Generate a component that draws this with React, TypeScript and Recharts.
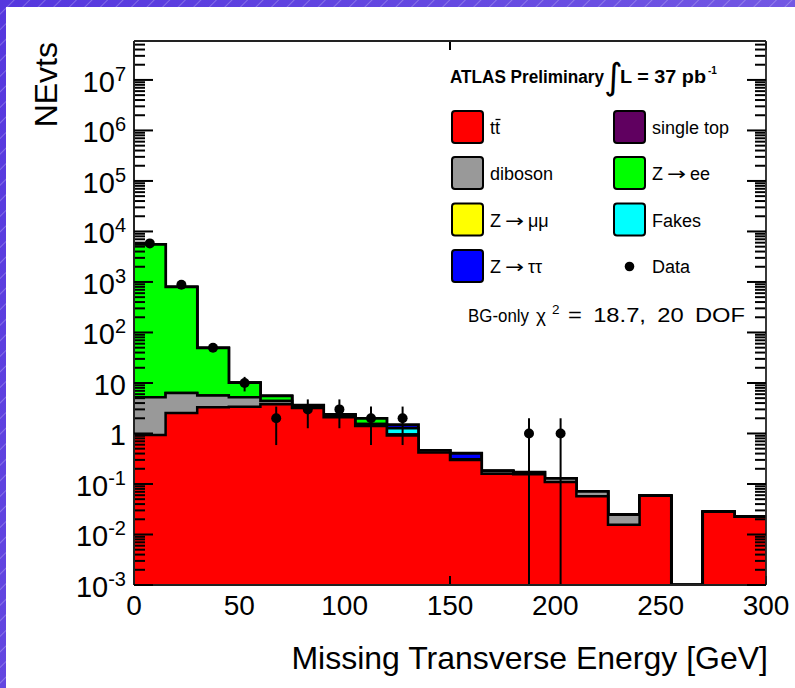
import React from 'react';
import { ComposedChart, Area, Scatter, XAxis, YAxis, ErrorBar } from 'recharts';

// ---- data ----
const binEdges = [0, 15, 30, 45, 60, 75, 90, 105, 120, 135, 150, 165, 180, 195, 210, 225, 240, 255, 270, 285, 300];

const ttbar = [0.93, 2.55, 3.3, 3.4, 3.8, 3.2, 2.1, 1.41, 0.91, 0.42, 0.3, 0.16, 0.155, 0.109, 0.057, 0.0156, 0.0584, 0, 0.0281, 0.0225];
const diboson = [4.27, 3.8, 2.35, 1.8, 0.6, 0.3, 0.2, 0.13, 0.03, 0.04, 0.005, 0.02, 0.015, 0.019, 0.014, 0.009, 0, 0, 0, 0];
const singleTop = [0, 0, 0, 0, 0, 0, 0, 0, 0, 0, 0, 0, 0, 0, 0, 0, 0, 0, 0, 0];
const zee = [5535, 790, 43.6, 4.9, 1.1, 0.13, 0.08, 0.44, 0, 0, 0, 0, 0, 0, 0, 0, 0, 0, 0, 0];
const zmumu = [0, 0, 0, 0, 0, 0, 0, 0, 0, 0, 0, 0, 0, 0, 0, 0, 0, 0, 0, 0];
const fakes = [0, 0, 0, 0, 0, 0, 0, 0, 0.33, 0, 0, 0, 0, 0, 0, 0, 0, 0, 0, 0];
const ztautau = [0, 0, 0, 0, 0, 0, 0, 0, 0.22, 0, 0.1, 0, 0, 0, 0, 0, 0, 0, 0, 0];

const dataCenters = [7.5, 22.5, 37.5, 52.5, 67.5, 82.5, 97.5, 112.5, 127.5, 187.5, 202.5];
const dataCounts = [5800, 880, 50, 10, 2, 3, 3, 2, 2, 1, 1];
const dataErrors = [76, 29.7, 7.1, 3.2, 1.41, 1.73, 1.73, 1.41, 1.41, 1, 1];

const xMajorTicks = [0, 50, 100, 150, 200, 250, 300];
const xMinorTicks = [10, 20, 30, 40, 60, 70, 80, 90, 110, 120, 130, 140, 160, 170, 180, 190, 210, 220, 230, 240, 260, 270, 280, 290];
const yMajorTicks = [1e-3, 1e-2, 1e-1, 1, 10, 1e2, 1e3, 1e4, 1e5, 1e6, 1e7];

const X_MIN = 0;
const X_MAX = 300;
const Y_MIN = 1e-3;
const Y_MAX = 5.9e7;

// ---- derived tables ----
const components = [ttbar, diboson, singleTop, zee, zmumu, fakes, ztautau];
const layerColors = ['#ff0000', '#999999', '#600060', '#00ff00', '#ffff00', '#00ffff', '#0000ff'];
const cumulative: number[][] = [];
components.forEach((arr, k) => {
  cumulative.push(arr.map((v, i) => v + (k > 0 ? cumulative[k - 1][i] : 0)));
});
const rows = binEdges.map((edge, i) => {
  const row: Record<string, number> = { x: edge };
  cumulative.forEach((arr, k) => {
    const v = arr[Math.min(i, arr.length - 1)];
    row['c' + k] = v > 0 ? v : Y_MIN;
  });
  return row;
});
const points = dataCenters.map((c, i) => ({
  x: c,
  y: dataCounts[i],
  err: [Math.min(dataErrors[i], dataCounts[i] - Y_MIN), dataErrors[i]],
}));
const yMinorTicks: number[] = [];
for (let e = -3; e <= 7; e++) {
  for (let m = 2; m <= 9; m++) {
    const v = m * Math.pow(10, e);
    if (v < Y_MAX) yMinorTicks.push(v);
  }
}

const FONT = '"Liberation Sans", Arial, Helvetica, sans-serif';
const AX = '#000';
const CHART_W = 795;
const CHART_H = 688;

const XTick = (props: any) => {
  const { x, y, payload } = props;
  return (
    <text x={x} y={y + 30} textAnchor="middle" fontSize={28} fontFamily={FONT} fill="#000">
      {payload.value}
    </text>
  );
};

const YTick = (props: any) => {
  const { x, y, payload } = props;
  const e = Math.round(Math.log10(payload.value));
  if (e === 0 || e === 1) {
    return (
      <text x={x} y={y + 12} textAnchor="end" fontSize={29} fontFamily={FONT} fill="#000">
        {e === 0 ? '1' : '10'}
      </text>
    );
  }
  return (
    <text x={x} y={y + 12} textAnchor="end" fontSize={29} fontFamily={FONT} fill="#000">
      10<tspan dy={-11} fontSize={20}>{String(e)}</tspan>
    </text>
  );
};

const EmptyTick = () => <g />;

const ARROW_FONT = '"DejaVu Sans", sans-serif';

const legendItems = [
  { pre: 'tt', arrow: false, post: '', color: '#ff0000', col: 0, row: 0, bar: true },
  { pre: 'single top', arrow: false, post: '', color: '#600060', col: 1, row: 0, bar: false },
  { pre: 'diboson', arrow: false, post: '', color: '#999999', col: 0, row: 1, bar: false },
  { pre: 'Z', arrow: true, post: 'ee', color: '#00ff00', col: 1, row: 1, bar: false },
  { pre: 'Z', arrow: true, post: '\u03bc\u03bc', color: '#ffff00', col: 0, row: 2, bar: false },
  { pre: 'Fakes', arrow: false, post: '', color: '#00ffff', col: 1, row: 2, bar: false },
  { pre: 'Z', arrow: true, post: '\u03c4\u03c4', color: '#0000ff', col: 0, row: 3, bar: false },
  { pre: 'Data', arrow: false, post: '', color: '', col: 1, row: 3, bar: false },
];
const colBox = [452, 614];
const rowTop = [111, 157, 203.5, 250];

const Overlay = () => (
  <svg width={795} height={688} style={{ position: 'absolute', left: 0, top: 0, pointerEvents: 'none', zIndex: 3 }}>
    <text transform="translate(57,42) rotate(-90)" textAnchor="end" fontSize={32} fontFamily={FONT} fill="#000">NEvts</text>
    <text x={768} y={668.5} textAnchor="end" fontSize={32} fontFamily={FONT} fill="#000">Missing Transverse Energy [GeV]</text>

    <text x={450} y={82.7} fontSize={17.5} fontWeight="bold" fontFamily={FONT} textLength={154} lengthAdjust="spacingAndGlyphs">ATLAS Preliminary</text>
    <text x={604} y={89} fontSize={36} fontFamily={ARROW_FONT}>{'\u222b'}</text>
    <text x={620} y={82.7} fontSize={17.5} fontWeight="bold" fontFamily={FONT} textLength={86} lengthAdjust="spacingAndGlyphs">L = 37 pb</text>
    <text x={708} y={74} fontSize={10} fontWeight="bold" fontFamily={FONT}>-1</text>

    {legendItems.map((it, i) => {
      const bx = colBox[it.col];
      const by = rowTop[it.row];
      const lx = bx + 38;
      return (
        <g key={i}>
          {it.color ? (
            <rect x={bx} y={by} width={31} height={32} rx={3} fill={it.color} stroke="#000" strokeWidth={2} />
          ) : (
            <circle cx={bx + 15.5} cy={by + 16.5} r={4.8} fill="#000" />
          )}
          {it.arrow ? (
            <g>
              <text x={lx} y={by + 23} fontSize={18} fontFamily={FONT}>{it.pre}</text>
              <text x={lx + 15} y={by + 23} fontSize={18} fontFamily={ARROW_FONT} textLength={19} lengthAdjust="spacingAndGlyphs">{'\u2192'}</text>
              <text x={lx + 38} y={by + 23} fontSize={18} fontFamily={FONT}>{it.post}</text>
            </g>
          ) : (
            <text x={lx} y={by + 23} fontSize={18} fontFamily={FONT}>{it.pre}</text>
          )}
          {it.bar ? (
            <line x1={lx + 5.5} x2={lx + 10.5} y1={by + 8.5} y2={by + 8.5} stroke="#000" strokeWidth={1.3} />
          ) : null}
        </g>
      );
    })}

    <text x={468} y={322} fontSize={19} fontFamily={FONT} textLength={61} lengthAdjust="spacingAndGlyphs">BG-only</text>
    <text x={536} y={322} fontSize={19} fontFamily={FONT}>{'\u03c7'}</text>
    <text x={552} y={314} fontSize={13.5} fontFamily={FONT}>2</text>
    <text x={568} y={322} fontSize={20} fontFamily={FONT} textLength={177} lengthAdjust="spacingAndGlyphs" style={{ wordSpacing: 4 }}>= 18.7, 20 DOF</text>
  </svg>
);

const lineStyle = { stroke: AX, strokeWidth: 2 };
const frameStyle = { stroke: '#222', strokeWidth: 1.8 };

// Frame + inward ticks, drawn by the library's own axes in a transparent chart layered on top of the fills.
const FrameTicks = () => {
  const common = { type: 'number' as const, allowDataOverflow: true, interval: 0 as const, tick: <EmptyTick />, tickMargin: 0 };
  const xDom: [number, number] = [X_MIN, X_MAX];
  const yDom: [number, number] = [Y_MIN, Y_MAX];
  return (
    <ComposedChart width={CHART_W} height={CHART_H} data={rows} margin={{ top: 41, right: 29, bottom: 103, left: 134 }}>
      <XAxis xAxisId="bM" orientation="bottom" mirror height={1} domain={xDom} ticks={xMajorTicks} tickSize={16} axisLine={frameStyle} tickLine={lineStyle} {...common} />
      <XAxis xAxisId="bm" orientation="bottom" mirror height={1} domain={xDom} ticks={xMinorTicks} tickSize={8} axisLine={false} tickLine={lineStyle} {...common} />
      <XAxis xAxisId="tM" orientation="top" mirror height={1} domain={xDom} ticks={xMajorTicks} tickSize={16} axisLine={frameStyle} tickLine={lineStyle} {...common} />
      <XAxis xAxisId="tm" orientation="top" mirror height={1} domain={xDom} ticks={xMinorTicks} tickSize={8} axisLine={false} tickLine={lineStyle} {...common} />
      <YAxis yAxisId="lM" orientation="left" mirror width={1} scale="log" domain={yDom} ticks={yMajorTicks} tickSize={19} axisLine={frameStyle} tickLine={lineStyle} {...common} />
      <YAxis yAxisId="lm" orientation="left" mirror width={1} scale="log" domain={yDom} ticks={yMinorTicks} tickSize={10} axisLine={false} tickLine={lineStyle} {...common} />
      <YAxis yAxisId="rM" orientation="right" mirror width={1} scale="log" domain={yDom} ticks={yMajorTicks} tickSize={19} axisLine={frameStyle} tickLine={lineStyle} {...common} />
      <YAxis yAxisId="rm" orientation="right" mirror width={1} scale="log" domain={yDom} ticks={yMinorTicks} tickSize={10} axisLine={false} tickLine={lineStyle} {...common} />
    </ComposedChart>
  );
};

export default function App() {
  const order = [6, 5, 4, 3, 2, 1, 0];
  return (
    <div
      style={{
        position: 'absolute',
        left: 0,
        top: 0,
        width: 795,
        height: 688,
        overflow: 'hidden',
        background: 'linear-gradient(120deg, #5537de 0%, #6a4fe2 50%, #8469e6 100%)',
      }}
    >
      <div
        style={{
          position: 'absolute',
          left: 0,
          top: 0,
          width: 795,
          height: 688,
          backgroundImage: 'repeating-linear-gradient(135deg, rgba(255,255,255,0) 0px, rgba(255,255,255,0) 9px, rgba(255,255,255,0.25) 10px, rgba(255,255,255,0) 11px)',
        }}
      />
      <div style={{ position: 'absolute', left: 6, top: 7, width: 789, height: 681, background: '#fff' }} />
      <div style={{ position: 'absolute', left: 0, top: 0, zIndex: 1 }}>
        <ComposedChart width={CHART_W} height={CHART_H} data={rows} margin={{ top: 41, right: 29, bottom: 43, left: 0 }}>
          {order.map((k) => (
            <Area
              key={'c' + k}
              type="stepAfter"
              dataKey={'c' + k}
              xAxisId="x"
              yAxisId="y"
              fill={layerColors[k]}
              fillOpacity={1}
              stroke="#000"
              strokeWidth={k === 6 ? 3 : 2.5}
              dot={false}
              activeDot={false}
              isAnimationActive={false}
            />
          ))}
          <Scatter
            data={points}
            dataKey="y"
            xAxisId="x"
            yAxisId="y"
            isAnimationActive={false}
            shape={(p: any) => <circle cx={p.cx} cy={p.cy} r={5} fill="#000" />}
          >
            <ErrorBar dataKey="err" direction="y" width={0} stroke="#000" strokeWidth={2} isAnimationActive={false} />
          </Scatter>

          <XAxis
            xAxisId="x"
            dataKey="x"
            type="number"
            domain={[X_MIN, X_MAX]}
            allowDataOverflow
            ticks={xMajorTicks}
            interval={0}
            tickLine={false}
            tickSize={0}
            tickMargin={0}
            height={60}
            axisLine={frameStyle}
            tick={<XTick />}
          />
          <YAxis
            yAxisId="y"
            orientation="left"
            width={134}
            type="number"
            scale="log"
            domain={[Y_MIN, Y_MAX]}
            allowDataOverflow
            ticks={yMajorTicks}
            interval={0}
            tickLine={false}
            tickSize={0}
            tickMargin={8}
            axisLine={frameStyle}
            tick={<YTick />}
          />
        </ComposedChart>
      </div>
      <div style={{ position: 'absolute', left: 0, top: 0, pointerEvents: 'none', zIndex: 2 }}>
        <FrameTicks />
      </div>
      <Overlay />
    </div>
  );
}
